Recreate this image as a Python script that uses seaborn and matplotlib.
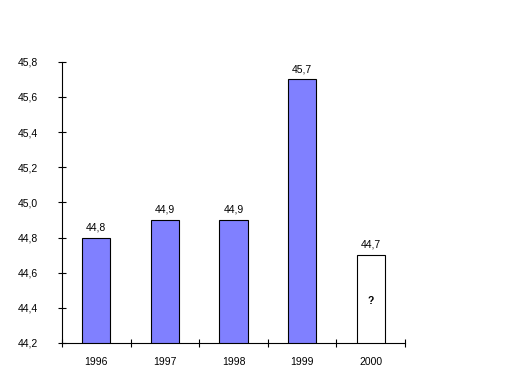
import matplotlib
matplotlib.use("Agg")
import matplotlib.pyplot as plt
import seaborn as sns
import pandas as pd
from matplotlib.ticker import FixedLocator

# Data
years = ["1996", "1997", "1998", "1999", "2000"]
values = [44.8, 44.9, 44.9, 45.7, 44.7]
bar_colors = ["#8080FF", "#8080FF", "#8080FF", "#8080FF", "#FFFFFF"]
y_ticks = [44.2, 44.4, 44.6, 44.8, 45.0, 45.2, 45.4, 45.6, 45.8]

df = pd.DataFrame({"year": years, "value": values})

sns.set_style("white", {"xtick.bottom": True, "ytick.left": True,
                        "text.color": "black", "xtick.color": "black",
                        "ytick.color": "black", "axes.edgecolor": "black"})
plt.rcParams["font.family"] = ["Liberation Sans", "DejaVu Sans"]

fig = plt.figure(figsize=(5.2, 3.84), dpi=100)
ax = fig.add_axes([0.119, 0.107, 0.66, 0.732])

sns.barplot(data=df, x="year", y="value", hue="year", palette=bar_colors,
            legend=False, width=0.41, saturation=1, edgecolor="black",
            linewidth=0.8, ax=ax)

ax.set_ylim(44.2, 45.8)
ax.set_xlim(-0.5, len(years) - 0.5)
ax.set_yticks(y_ticks)
ax.set_yticklabels([f"{t:.1f}".replace(".", ",") for t in y_ticks], fontsize=7.5)
ax.tick_params(axis="y", direction="inout", length=6, width=0.8, pad=14,
               color="black", labelcolor="black", left=True)
ax.tick_params(axis="x", which="major", length=0, labelsize=7.5, pad=10,
               labelcolor="black")
ax.xaxis.set_minor_locator(FixedLocator([i + 0.5 for i in range(-1, len(years))]))
ax.tick_params(axis="x", which="minor", direction="inout", length=6, width=0.8,
               color="black", bottom=True)
ax.set_xlabel("")
ax.set_ylabel("")
for side in ["top", "right"]:
    ax.spines[side].set_visible(False)
for side in ["left", "bottom"]:
    ax.spines[side].set_color("black")
    ax.spines[side].set_linewidth(0.8)

for i, v in enumerate(values):
    ax.text(i, v + 0.03, f"{v:.1f}".replace(".", ","), ha="center", va="bottom",
            fontsize=7.5, color="black")
ax.text(len(years) - 1, 44.44, "?", ha="center", va="center", fontsize=7.5,
        fontweight="bold", color="black")

fig.savefig("out.png", dpi=100)
